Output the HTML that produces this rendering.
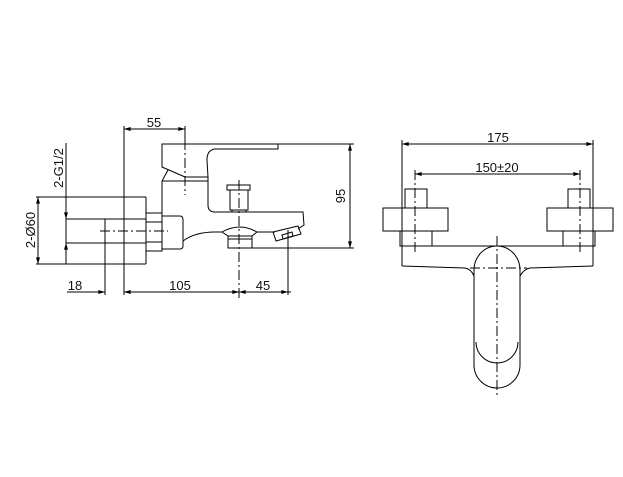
<!DOCTYPE html>
<html><head><meta charset="utf-8"><style>
html,body{margin:0;padding:0;background:#fff;}
svg{display:block;}
text{font-family:"Liberation Sans",sans-serif;font-size:13px;fill:#111;}
</style></head><body>
<svg width="623" height="477" viewBox="0 0 623 477" xmlns="http://www.w3.org/2000/svg">
<defs>
<marker id="a" viewBox="0 0 10 6" refX="10" refY="3" markerWidth="10" markerHeight="4" orient="auto-start-reverse" markerUnits="userSpaceOnUse"><path d="M0,0L10,3L0,6z" fill="#000"/></marker>
</defs>
<g fill="none" stroke="#000" stroke-width="1">
<!-- LEFT VIEW -->
<!-- 55 dim -->
<line x1="124" y1="129" x2="185" y2="129" marker-start="url(#a)" marker-end="url(#a)"/>
<line x1="124" y1="126" x2="124" y2="295"/>
<line x1="185" y1="126" x2="185" y2="140"/>
<line x1="185" y1="140" x2="185" y2="195" stroke-dasharray="10,3,2,3"/>
<!-- 95 dim -->
<line x1="278" y1="144" x2="354" y2="144"/>
<line x1="250" y1="248" x2="354" y2="248"/>
<line x1="350" y1="144" x2="350" y2="248" marker-start="url(#a)" marker-end="url(#a)"/>
<!-- wall block -->
<line x1="36" y1="197" x2="146" y2="197"/>
<line x1="36" y1="264" x2="146" y2="264"/>
<line x1="146" y1="197" x2="146" y2="264"/>
<line x1="38" y1="197" x2="38" y2="264" marker-start="url(#a)" marker-end="url(#a)"/>
<line x1="66" y1="143" x2="66" y2="264"/>
<line x1="66" y1="219" x2="146" y2="219"/>
<line x1="66" y1="243" x2="146" y2="243"/>
<line x1="66" y1="205" x2="66" y2="219" marker-end="url(#a)"/>
<line x1="66" y1="257" x2="66" y2="243" marker-end="url(#a)"/>
<line x1="105" y1="219" x2="105" y2="295"/>
<line x1="100" y1="231" x2="168" y2="231" stroke-dasharray="10,3,2,3"/>
<!-- hex nut -->
<rect x="146" y="213" width="16" height="38"/>
<line x1="146" y1="222" x2="162" y2="222"/>
<line x1="146" y1="242" x2="162" y2="242"/>
<!-- connector -->
<path d="M162,216 L180,216 Q183,216 183,220 L183,246 Q183,249 180,249 L162,249"/>
<!-- lever -->
<path d="M162,144 L278,144 L278,149 L215,149 Q207,150 207,160 L208,177 L185,177 L162,167 Z"/>
<path d="M185,177 L208,177 L208,181"/>
<!-- body -->
<path d="M162,181 L162,216"/>
<path d="M162,181 L168,170"/>
<path d="M162,181 L208,181"/>
<path d="M208,181 L208,205 Q208,212 215,212 L303,212 L304,225 L298,229"/>
<path d="M183,241 Q195,232 215,232 L222,232"/>
<path d="M257,232 L275,232"/>
<!-- valve top -->
<path d="M227,185 L250,185 L250,190 L227,190 Z"/>
<rect x="230" y="190" width="18" height="20"/>
<line x1="232" y1="210" x2="232" y2="212"/><line x1="246" y1="210" x2="246" y2="212"/>
<line x1="239" y1="180" x2="239" y2="300" stroke-dasharray="10,3,2,3"/>
<!-- diverter -->
<path d="M222,232 Q240,222 257,232 L252,236 L228,236 Z"/>
<rect x="228" y="236" width="24" height="12"/>
<line x1="228" y1="239" x2="252" y2="239"/>
<!-- spout tip -->
<path d="M273,232 L298,226 L301,234 L276,241 Z"/>
<path d="M282,235 L292,232 L293,236 L283,239 Z"/>
<line x1="288" y1="230" x2="288" y2="295"/>
<!-- bottom dims -->
<line x1="67" y1="292" x2="105" y2="292" marker-end="url(#a)"/>
<line x1="124" y1="292" x2="239" y2="292" marker-start="url(#a)" marker-end="url(#a)"/>
<line x1="239" y1="292" x2="288" y2="292" marker-start="url(#a)" marker-end="url(#a)"/>
<line x1="288" y1="292" x2="291" y2="292"/>

<!-- RIGHT VIEW -->
<line x1="402" y1="144" x2="593" y2="144" marker-start="url(#a)" marker-end="url(#a)"/>
<line x1="402" y1="140" x2="402" y2="266"/>
<line x1="593" y1="140" x2="593" y2="266"/>
<line x1="415" y1="174" x2="580" y2="174" marker-start="url(#a)" marker-end="url(#a)"/>
<line x1="415" y1="170" x2="415" y2="252" stroke-dasharray="10,3,2,3"/>
<line x1="580" y1="170" x2="580" y2="252" stroke-dasharray="10,3,2,3"/>
<rect x="405" y="189" width="22" height="19"/>
<rect x="383" y="208" width="65" height="23"/>
<rect x="400" y="231" width="32" height="15"/>
<rect x="568" y="189" width="22" height="19"/>
<rect x="547" y="208" width="66" height="23"/>
<rect x="563" y="231" width="32" height="15"/>
<line x1="400" y1="246" x2="595" y2="246"/>
<path d="M402,266 L465,268 Q471,269 474,276"/>
<path d="M593,266 L530,268 Q524,269 520,276"/>
<path d="M474,270 A23,24 0 0 1 520,270 L520,365 A23,23 0 0 1 474,365 Z"/>
<path d="M476,342 A21,21 0 0 0 518,342"/>
<line x1="497" y1="236" x2="497" y2="398" stroke-dasharray="10,3,2,3"/>
<line x1="470" y1="268" x2="527" y2="268" stroke-dasharray="10,3,2,3"/>
</g>
<text x="154" y="127" text-anchor="middle">55</text>
<text x="345" y="196" text-anchor="middle" transform="rotate(-90 345 196)">95</text>
<text x="63" y="168" text-anchor="middle" transform="rotate(-90 63 168)">2-G1/2</text>
<text x="35" y="230" text-anchor="middle" transform="rotate(-90 35 230)">2-Ø60</text>
<text x="75" y="290" text-anchor="middle">18</text>
<text x="180" y="290" text-anchor="middle">105</text>
<text x="263" y="290" text-anchor="middle">45</text>
<text x="498" y="142" text-anchor="middle">175</text>
<text x="497" y="172" text-anchor="middle">150±20</text>
</svg>
</body></html>
